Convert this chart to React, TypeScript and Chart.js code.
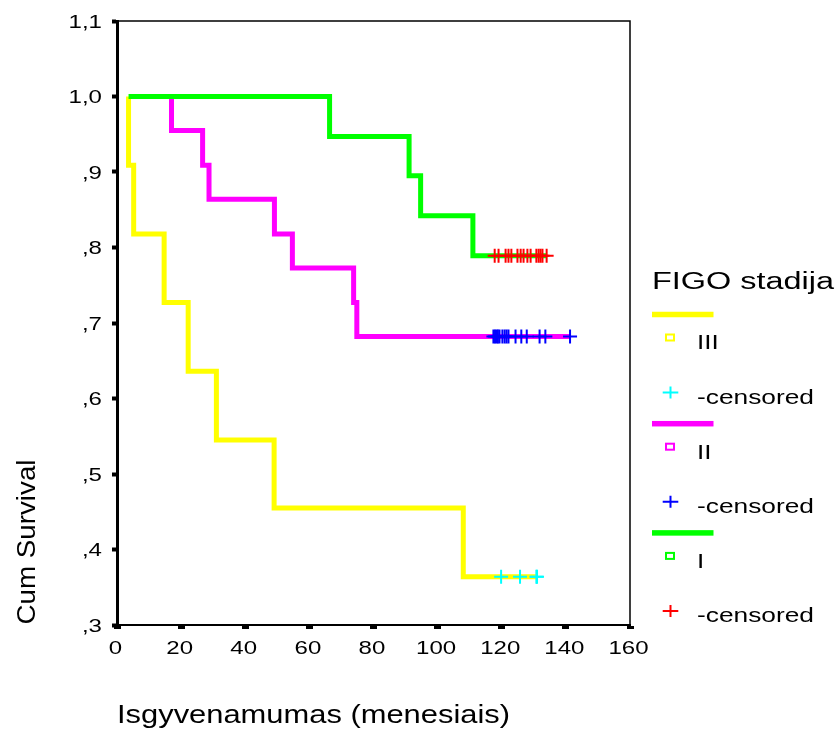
import { useEffect, useRef } from "react";
import { Chart, registerables } from "chart.js";

Chart.register(...registerables);

const FONT = '"Liberation Sans", Arial, Helvetica, sans-serif';

// ---- axis ticks ----
const xTickValues = [0, 20, 40, 60, 80, 100, 120, 140, 160];
const xTickLabels = ["0", "20", "40", "60", "80", "100", "120", "140", "160"];
const yTickValues = [0.3, 0.4, 0.5, 0.6, 0.7, 0.8, 0.9, 1.0, 1.1];
const yTickLabels = [",3", ",4", ",5", ",6", ",7", ",8", ",9", "1,0", "1,1"];

const xTitle = "Isgyvenamumas (menesiais)";
const yTitle = "Cum Survival";
const legendTitle = "FIGO stadija";

// ---- survival curves (step points: time, cumulative survival) ----
const stageIIITimes = [3.6, 3.6, 5.2, 14.7, 22.2, 31.0, 49.0, 108.0, 131.0];
const stageIIISurvival = [1.0, 0.909, 0.818, 0.727, 0.636, 0.545, 0.455, 0.364, 0.364];

const stageIITimes = [17.0, 17.0, 26.7, 28.7, 49.1, 54.7, 73.8, 74.8, 141.3];
const stageIISurvival = [1.0, 0.955, 0.909, 0.864, 0.818, 0.773, 0.727, 0.682, 0.682];

const stageITimes = [3.6, 66.3, 91.1, 94.7, 111.0, 134.0];
const stageISurvival = [1.0, 0.947, 0.895, 0.842, 0.789, 0.789];

// ---- censored observations ----
const stageIIICensTimes = [119.8, 125.7, 130.8, 131.0];
const stageIIICensSurv = [0.364, 0.364, 0.364, 0.364];

const stageIICensTimes = [
  117.4, 117.9, 118.4, 118.8, 119.3, 120.2, 120.9, 121.5, 122.1, 124.3, 126.1, 127.8, 131.8, 133.6, 141.3,
];
const stageIICensSurv = [
  0.682, 0.682, 0.682, 0.682, 0.682, 0.682, 0.682, 0.682, 0.682, 0.682, 0.682, 0.682, 0.682, 0.682, 0.682,
];

const stageICensTimes = [
  117.8, 119.0, 121.2, 122.1, 123.0, 124.9, 125.9, 126.8, 128.0, 129.0, 130.8, 131.5, 132.1, 132.7, 134.0,
];
const stageICensSurv = [
  0.789, 0.789, 0.789, 0.789, 0.789, 0.789, 0.789, 0.789, 0.789, 0.789, 0.789, 0.789, 0.789, 0.789, 0.789,
];

// ---- legend ----
const legendGroupLabels = ["III", "II", "I"];
const legendCensoredLabel = "-censored";
const lineColors = ["#FFFF00", "#FF00FF", "#00FF00"];
const censorColors = ["#00FFFF", "#0000FF", "#FF0000"];

const toPoints = (xs: number[], ys: number[]) => xs.map((x, i) => ({ x, y: ys[i] }));

function drawText(
  ctx: CanvasRenderingContext2D,
  text: string,
  x: number,
  y: number,
  size: number,
  sx: number,
  align: CanvasTextAlign,
  fitWidth?: number
) {
  ctx.save();
  ctx.font = `${size}px ${FONT}`;
  ctx.textBaseline = "alphabetic";
  ctx.textAlign = align;
  let s = sx;
  if (fitWidth) {
    const w = ctx.measureText(text).width;
    s = fitWidth / w;
  }
  ctx.translate(x, y);
  ctx.scale(s, 1);
  ctx.fillStyle = "#000";
  ctx.fillText(text, 0, 0);
  ctx.restore();
}

const decorPlugin = {
  id: "decor",
  afterDraw(chart: any) {
    const ctx: CanvasRenderingContext2D = chart.ctx;
    const ca = chart.chartArea;
    ctx.save();
    // thin frame at top and right
    ctx.strokeStyle = "#000";
    ctx.lineWidth = 1.5;
    ctx.beginPath();
    ctx.moveTo(ca.left, ca.top);
    ctx.lineTo(ca.right, ca.top);
    ctx.lineTo(ca.right, ca.bottom);
    ctx.stroke();

    // tick labels
    const ys = chart.scales.y;
    ys.ticks.forEach((t: any, i: number) => {
      const py = ys.getPixelForValue(t.value);
      drawText(ctx, yTickLabels[i], ca.left - 15, py + 6.8, 18.5, 1.3, "right");
    });
    const xs = chart.scales.x;
    xs.ticks.forEach((t: any, i: number) => {
      const px = xs.getPixelForValue(t.value);
      drawText(ctx, xTickLabels[i], px - 1.5, ca.bottom + 28.5, 18.5, 1.3, "center");
    });

    // axis titles
    drawText(ctx, xTitle, ca.left, 723, 25, 1, "left", 393);
    ctx.save();
    ctx.translate(35, 542);
    ctx.rotate(-Math.PI / 2);
    ctx.font = `25px ${FONT}`;
    ctx.textAlign = "center";
    ctx.textBaseline = "alphabetic";
    const yw = ctx.measureText(yTitle).width;
    ctx.scale(165 / yw, 1);
    ctx.fillStyle = "#000";
    ctx.fillText(yTitle, 0, 0);
    ctx.restore();

    // legend
    drawText(ctx, legendTitle, 652, 289.3, 23, 1, "left", 182);
    legendGroupLabels.forEach((lab, g) => {
      const by = 314.5 + g * 109.2;
      ctx.fillStyle = lineColors[g];
      ctx.fillRect(652, by - 2.75, 61.5, 5.5);
      ctx.strokeStyle = lineColors[g];
      ctx.lineWidth = 2;
      ctx.strokeRect(666, by + 20, 8, 6);
      drawText(ctx, lab, 697, by + 34.8, 20, 1.3, "left");
      const cx = 670.5;
      const cy = by + 78;
      ctx.strokeStyle = censorColors[g];
      ctx.lineWidth = 2;
      ctx.beginPath();
      ctx.moveTo(cx - 7.8, cy);
      ctx.lineTo(cx + 7.8, cy);
      ctx.moveTo(cx, cy - 6);
      ctx.lineTo(cx, cy + 6);
      ctx.stroke();
      drawText(ctx, legendCensoredLabel, 697, by + 89.5, 20, 1, "left", 117);
    });
    ctx.restore();
  },
};

export default function App() {
  const ref = useRef<HTMLCanvasElement>(null);
  useEffect(() => {
    if (!ref.current) return;
    const lineDs = (data: any[], color: string, order: number) => ({
      data,
      borderColor: color,
      backgroundColor: color,
      borderWidth: 5,
      stepped: "before" as const,
      pointRadius: 0,
      pointHoverRadius: 0,
      fill: false,
      borderCapStyle: "butt" as const,
      borderJoinStyle: "miter" as const,
      order,
    });
    const censDs = (data: any[], color: string, order: number) => ({
      data,
      showLine: false,
      borderColor: color,
      backgroundColor: color,
      pointStyle: "cross" as const,
      pointRadius: 7,
      pointBorderWidth: 2,
      pointBorderColor: color,
      pointHoverRadius: 7,
      order,
    });
    const chart = new Chart(ref.current, {
      type: "line",
      data: {
        datasets: [
          lineDs(toPoints(stageIIITimes, stageIIISurvival), lineColors[0], 5) as any,
          censDs(toPoints(stageIIICensTimes, stageIIICensSurv), censorColors[0], 4) as any,
          lineDs(toPoints(stageIITimes, stageIISurvival), lineColors[1], 3) as any,
          censDs(toPoints(stageIICensTimes, stageIICensSurv), censorColors[1], 2) as any,
          lineDs(toPoints(stageITimes, stageISurvival), lineColors[2], 1) as any,
          censDs(toPoints(stageICensTimes, stageICensSurv), censorColors[2], 0) as any,
        ],
      },
      options: {
        responsive: false,
        maintainAspectRatio: false,
        devicePixelRatio: 1,
        animation: false,
        events: [],
        layout: { padding: { left: 117, right: 210, top: 21, bottom: 104 } },
        plugins: { legend: { display: false }, tooltip: { enabled: false }, title: { display: false } },
        scales: {
          x: {
            type: "linear",
            min: 0,
            max: 160,
            afterBuildTicks: (s: any) => {
              s.ticks = xTickValues.map((v) => ({ value: v }));
            },
            afterFit: (s: any) => {
              s.height = 0;
            },
            ticks: { display: false },
            grid: {
              display: true,
              drawOnChartArea: false,
              drawTicks: true,
              tickLength: 4,
              tickWidth: 7,
              tickColor: "#000",
              color: "#000",
            },
            border: { display: true, color: "#000", width: 2 },
          },
          y: {
            type: "linear",
            min: 0.3,
            max: 1.1,
            afterBuildTicks: (s: any) => {
              s.ticks = yTickValues.map((v) => ({ value: v }));
            },
            afterFit: (s: any) => {
              s.width = 0;
            },
            ticks: { display: false },
            grid: {
              display: true,
              drawOnChartArea: false,
              drawTicks: true,
              tickLength: 5,
              tickWidth: 4,
              tickColor: "#000",
              color: "#000",
            },
            border: { display: true, color: "#000", width: 3 },
          },
        },
      },
      plugins: [decorPlugin],
    } as any);
    return () => chart.destroy();
  }, []);
  return (
    <canvas
      ref={ref}
      width={840}
      height={729}
      style={{ position: "absolute", left: 0, top: 0, width: 840, height: 729, display: "block" }}
    />
  );
}
